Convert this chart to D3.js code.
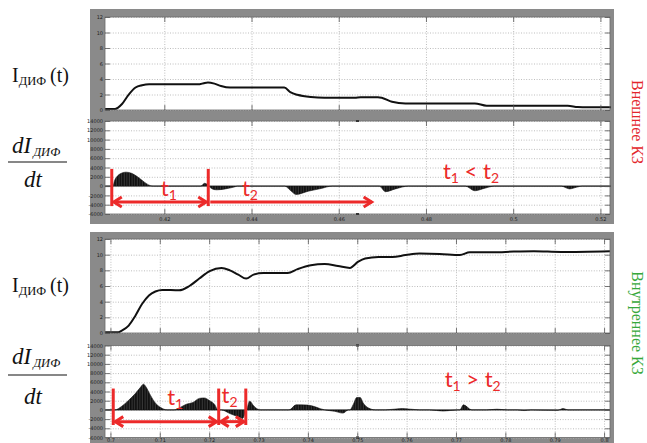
<!DOCTYPE html>
<html><head><meta charset="utf-8">
<script src="https://cdn.jsdelivr.net/npm/d3@7"></script>
<style>body{margin:0;background:#fff}svg{display:block}</style>
</head><body><svg id="c" width="647" height="443"></svg>
<script>
// ---------- DATA ----------
// External fault: differential current I(t)
const extT = [0.4064,0.4087,0.4103,0.4118,0.4134,0.4149,0.4165,0.4175,0.4281,0.4290,0.4300,0.4315,0.4330,0.4351,0.4400,0.4475,0.4490,0.4505,0.4536,0.4567,0.4637,0.4650,0.4690,0.4700,0.4722,0.4753,0.4912,0.4939,0.4960,0.5125,0.5148,0.5170,0.5224];
const extI = [0.13,0.13,0.77,1.96,2.9,3.2,3.33,3.33,3.33,3.45,3.55,3.4,3.1,2.9,2.9,2.9,2.26,1.96,1.67,1.58,1.58,1.65,1.65,1.55,1.07,0.85,0.85,0.55,0.55,0.55,0.38,0.34,0.34];
// External fault: dI/dt
const extDT = [0.4064,0.4082,0.4086,0.4092,0.4100,0.4112,0.4125,0.4140,0.4155,0.4168,0.4175,0.4284,0.4292,0.4298,0.4302,0.4310,0.4320,0.4340,0.4360,0.4368,0.4476,0.4490,0.4502,0.4530,0.4560,0.4585,0.4693,0.4707,0.4730,0.4760,0.4890,0.4912,0.4935,0.4957,0.5110,0.5129,0.5145,0.5158,0.5224];
const extDV = [0,0,1200,2100,2700,3000,2750,1900,800,100,0,0,600,400,0,-600,-800,-600,-200,0,0,-1000,-1800,-1100,-500,0,0,-1200,-600,0,0,-1000,-450,0,0,-600,-250,0,0];
// Internal fault: differential current I(t)
const intT = [0.6989,0.7016,0.7023,0.7037,0.7050,0.7064,0.7078,0.7091,0.7105,0.7139,0.7160,0.7180,0.7201,0.7225,0.7242,0.7259,0.7275,0.7290,0.7310,0.7359,0.7379,0.7406,0.7434,0.7461,0.7485,0.7502,0.7516,0.7543,0.7571,0.7598,0.7626,0.7667,0.7708,0.7728,0.7776,0.7817,0.7858,0.7913,0.8012];
const intI = [0.1,0.1,0.3,0.95,2.15,3.7,4.8,5.3,5.5,5.45,6.0,6.95,7.9,8.3,8.0,7.45,6.95,7.45,7.65,7.65,8.15,8.65,8.8,8.55,8.3,9.1,9.5,9.7,9.7,9.95,10.15,10.1,9.95,10.3,10.3,10.4,10.45,10.35,10.45];
// Internal fault: dI/dt
const intDT = [0.6989,0.7009,0.7023,0.7036,0.7050,0.7060,0.7067,0.7072,0.7081,0.7091,0.7102,0.7115,0.7129,0.7139,0.7153,0.7167,0.7180,0.7190,0.7201,0.7211,0.7218,0.7225,0.7242,0.7259,0.7268,0.7273,0.7276,0.7282,0.7290,0.7303,0.7362,0.7376,0.7399,0.7434,0.7454,0.7471,0.7482,0.7485,0.7492,0.7499,0.7506,0.7512,0.7523,0.7537,0.7557,0.7591,0.7626,0.7646,0.7674,0.7704,0.7708,0.7715,0.7732,0.7762,0.7783,0.7804,0.7824,0.7838,0.7852,0.7906,0.7917,0.7927,0.8012];
const intDV = [0,0,800,2000,3500,4800,5600,5000,3200,1500,500,0,0,400,1200,1600,2500,2600,2000,1200,0,0,-800,-1500,-1850,-600,0,1900,900,0,0,1100,1050,0,-300,-700,0,0,1200,2700,2700,1500,400,0,0,300,0,0,-250,0,0,1100,0,0,150,0,0,-150,0,-100,300,0,0];

// Axis ticks
const iTicks = [0,2,4,6,8,10,12];
const dTicks = [-6000,-4000,-2000,0,2000,4000,6000,8000,10000,12000,14000];
const extXTicks = [0.42,0.44,0.46,0.48,0.5,0.52];
const intXTicks = [0.7,0.71,0.72,0.73,0.74,0.75,0.76,0.77,0.78,0.79,0.8];

// Annotations (time, value)
const extBars = [0.40795,0.43008];
const extBarRange = [3700,-4300];
const extArrowV = -3400;
const extArrows = [[0.40795,0.43008,"both"],[0.43008,0.4680,"end"]];
const extLabels = [[0.4192,-2130,"t","1"],[0.4378,-2130,"t","2"]];
const extRel = [0.4839,1500,"<"];
const intBars = [0.70057,0.72193,0.72742];
const intBarRange = [4640,-3280];
const intArrowV = -2550;
const intArrows = [[0.70057,0.72193,"both"],[0.72193,0.72742,"both"]];
const intLabels = [[0.7115,1040,"t","1"],[0.7225,1450,"t","2"]];
const intRel = [0.7677,5000,">"];

// ---------- DRAW ----------
const FRAME = "#8a8a8a", RED = "#ec2a2a";
const svg = d3.select("#c");
svg.append("rect").attr("x",90).attr("y",9).attr("width",524).attr("height",215).attr("fill",FRAME);
svg.append("rect").attr("x",90).attr("y",232).attr("width",524).attr("height",220).attr("fill",FRAME);

const xExt = d3.scaleLinear().domain([0.4064,0.5222]).range([105,610]);
const xInt = d3.scaleLinear().domain([0.6989,0.8012]).range([105,610]);
const y1 = d3.scaleLinear().domain([0,12]).range([110,17]);
const y2 = d3.scaleLinear().domain([-6000,14000]).range([214,121]);
const y3 = d3.scaleLinear().domain([0,12]).range([333,239]);
const y4 = d3.scaleLinear().domain([-6000,14000]).range([437.5,345.5]);

// hatch pattern
const defs = svg.append("defs");
const pat = defs.append("pattern").attr("id","hatch").attr("patternUnits","userSpaceOnUse").attr("width",2.6).attr("height",10);
pat.append("rect").attr("width",2.6).attr("height",10).attr("fill","#0d0d0d");
pat.append("rect").attr("x",1.6).attr("width",0.6).attr("height",10).attr("fill","#5a5a5a");

function styleTicks(sel){
  sel.select(".domain").remove();
  sel.selectAll("line").attr("stroke","#555").attr("stroke-width",0.8);
  sel.selectAll("text").attr("font-family","DejaVu Sans").attr("font-size",5).attr("fill","#222");
}

function panel(xs, ys, yTicks, xTicks, xLabels, xPad, draw){
  const [x0,x1] = xs.range(), [yb,yt] = ys.range();
  const g = svg.append("g");
  g.append("rect").attr("x",x0).attr("y",yt).attr("width",x1-x0).attr("height",yb-yt).attr("fill","#fff");
  const gy = g.append("g").attr("transform",`translate(${x0},0)`)
    .call(d3.axisLeft(ys).tickValues(yTicks).tickSize(-(x1-x0)).tickFormat(""));
  gy.select(".domain").remove();
  gy.selectAll("line").attr("stroke","#bdbdbd").attr("stroke-dasharray","1,1.6");
  const gx = g.append("g").attr("transform",`translate(0,${yb})`)
    .call(d3.axisBottom(xs).tickValues(xTicks).tickSize(-(yb-yt)).tickFormat(""));
  gx.select(".domain").remove();
  gx.selectAll("line").attr("stroke","#bdbdbd").attr("stroke-dasharray","1,1.6");
  draw(g);
  g.append("rect").attr("x",x0).attr("y",yt).attr("width",x1-x0).attr("height",yb-yt)
    .attr("fill","none").attr("stroke","#6a6a6a").attr("stroke-width",0.8);
  styleTicks(g.append("g").attr("transform",`translate(${x0},0)`)
    .call(d3.axisLeft(ys).tickValues(yTicks).tickSize(-5).tickPadding(2).tickFormat(d=>String(d))));
  styleTicks(g.append("g").attr("transform",`translate(${x1},0)`)
    .call(d3.axisRight(ys).tickValues(yTicks).tickSize(-5).tickFormat("")));
  styleTicks(g.append("g").attr("transform",`translate(0,${yt})`)
    .call(d3.axisTop(xs).tickValues(xTicks).tickSize(-5).tickFormat("")));
  styleTicks(g.append("g").attr("transform",`translate(0,${yb})`)
    .call(d3.axisBottom(xs).tickValues(xTicks).tickSize(-5).tickPadding(xPad)
      .tickFormat(xLabels ? (d=>String(d)) : "")));
  return g;
}

function lineDraw(xs, ys, T, V){
  return g => {
    g.append("path").datum(T.map((t,i)=>[t,V[i]]))
      .attr("fill","none").attr("stroke","#111").attr("stroke-width",2)
      .attr("d", d3.line().x(d=>xs(d[0])).y(d=>ys(d[1])).curve(d3.curveMonotoneX));
  };
}
function areaDraw(xs, ys, T, V){
  return g => {
    const [x0,x1] = xs.range();
    g.append("line").attr("x1",x0).attr("x2",x1).attr("y1",ys(0)).attr("y2",ys(0))
      .attr("stroke","#9a9a9a").attr("stroke-width",1.3);
    g.append("path").datum(T.map((t,i)=>[t,V[i]]))
      .attr("fill","url(#hatch)").attr("stroke","#111").attr("stroke-width",0.6)
      .attr("d", d3.area().x(d=>xs(d[0])).y0(ys(0)).y1(d=>ys(d[1])).curve(d3.curveMonotoneX));
    const xm = (x0+x1)/2, [yb,yt] = ys.range();
    g.append("rect").attr("x",xm-1.5).attr("y",yt-1).attr("width",3).attr("height",2).attr("fill","#111");
    g.append("rect").attr("x",xm-1.5).attr("y",yb-1).attr("width",3).attr("height",2).attr("fill","#111");
  };
}

function annotate(g, xs, ys, bars, barRange, arrowV, arrows, labels, rel){
  bars.forEach(t=>{
    g.append("line").attr("x1",xs(t)).attr("x2",xs(t)).attr("y1",ys(barRange[0])).attr("y2",ys(barRange[1]))
      .attr("stroke",RED).attr("stroke-width",3);
  });
  const ay = ys(arrowV);
  arrows.forEach(([a,b,type])=>{
    const xa = xs(a)+2, xb = xs(b)-2;
    g.append("line").attr("x1",xa).attr("x2",xb).attr("y1",ay).attr("y2",ay)
      .attr("stroke",RED).attr("stroke-width",3);
    g.append("path").attr("d",`M${xb-8},${ay-5}L${xb},${ay}L${xb-8},${ay+5}`)
      .attr("fill","none").attr("stroke",RED).attr("stroke-width",3);
    if(type==="both"){
      g.append("path").attr("d",`M${xa+8},${ay-5}L${xa},${ay}L${xa+8},${ay+5}`)
        .attr("fill","none").attr("stroke",RED).attr("stroke-width",3);
    }
  });
  labels.forEach(([t,v,s,sub])=>{
    const tx = g.append("text").attr("x",xs(t)).attr("y",ys(v))
      .attr("font-family","Lato").attr("font-size",22).attr("fill",RED);
    tx.append("tspan").text(s);
    tx.append("tspan").attr("font-size",14).attr("dy",4).text(sub);
  });
  const tx = g.append("text").attr("x",xs(rel[0])).attr("y",ys(rel[1]))
    .attr("font-family","Lato").attr("font-size",22).attr("fill",RED);
  tx.append("tspan").text("t");
  tx.append("tspan").attr("font-size",14).attr("dy",4).text("1");
  tx.append("tspan").attr("dy",-4).text(" "+rel[2]+" t");
  tx.append("tspan").attr("font-size",14).attr("dy",4).text("2");
}

panel(xExt, y1, iTicks, extXTicks, false, 2, lineDraw(xExt, y1, extT, extI));
const p2 = panel(xExt, y2, dTicks, extXTicks, true, 3, areaDraw(xExt, y2, extDT, extDV));
annotate(p2, xExt, y2, extBars, extBarRange, extArrowV, extArrows, extLabels, extRel);
panel(xInt, y3, iTicks, intXTicks, false, 2, lineDraw(xInt, y3, intT, intI));
const p4 = panel(xInt, y4, dTicks, intXTicks, true, 0.5, areaDraw(xInt, y4, intDT, intDV));
annotate(p4, xInt, y4, intBars, intBarRange, intArrowV, intArrows, intLabels, intRel);

// ---------- LEFT LABELS ----------
function iLabel(yb){
  const t = svg.append("text").attr("x",12).attr("y",yb).attr("font-family","Liberation Serif").attr("font-size",20).attr("fill","#111");
  t.append("tspan").text("I");
  t.append("tspan").attr("font-size",12.5).attr("dy",3).text("ДИФ");
  t.append("tspan").attr("dy",-3).attr("dx",4).text("(t)");
}
function dLabel(yn, yl, yd){
  const t = svg.append("text").attr("x",12).attr("y",yn).attr("font-family","Liberation Serif").attr("font-style","italic").attr("font-size",23).attr("fill","#111");
  t.append("tspan").text("dI");
  t.append("tspan").attr("font-size",12.5).attr("dy",3).attr("dx",2).text("ДИФ");
  svg.append("line").attr("x1",8).attr("x2",67).attr("y1",yl).attr("y2",yl).attr("stroke","#111").attr("stroke-width",1.2);
  svg.append("text").attr("x",33).attr("y",yd).attr("text-anchor","middle").attr("font-family","Liberation Serif")
    .attr("font-style","italic").attr("font-size",23).attr("fill","#111").text("dt");
}
iLabel(82); dLabel(153,162,187);
iLabel(292); dLabel(364,375,404);

// ---------- RIGHT LABELS ----------
svg.append("text").attr("transform","translate(632,122) rotate(90)").attr("text-anchor","middle")
  .attr("font-family","Liberation Serif").attr("font-size",16).attr("fill","#e3262b").text("Внешнее КЗ");
svg.append("text").attr("transform","translate(632,323) rotate(90)").attr("text-anchor","middle")
  .attr("font-family","Liberation Serif").attr("font-size",16).attr("fill","#36a83a").text("Внутреннее КЗ");
</script></body></html>
